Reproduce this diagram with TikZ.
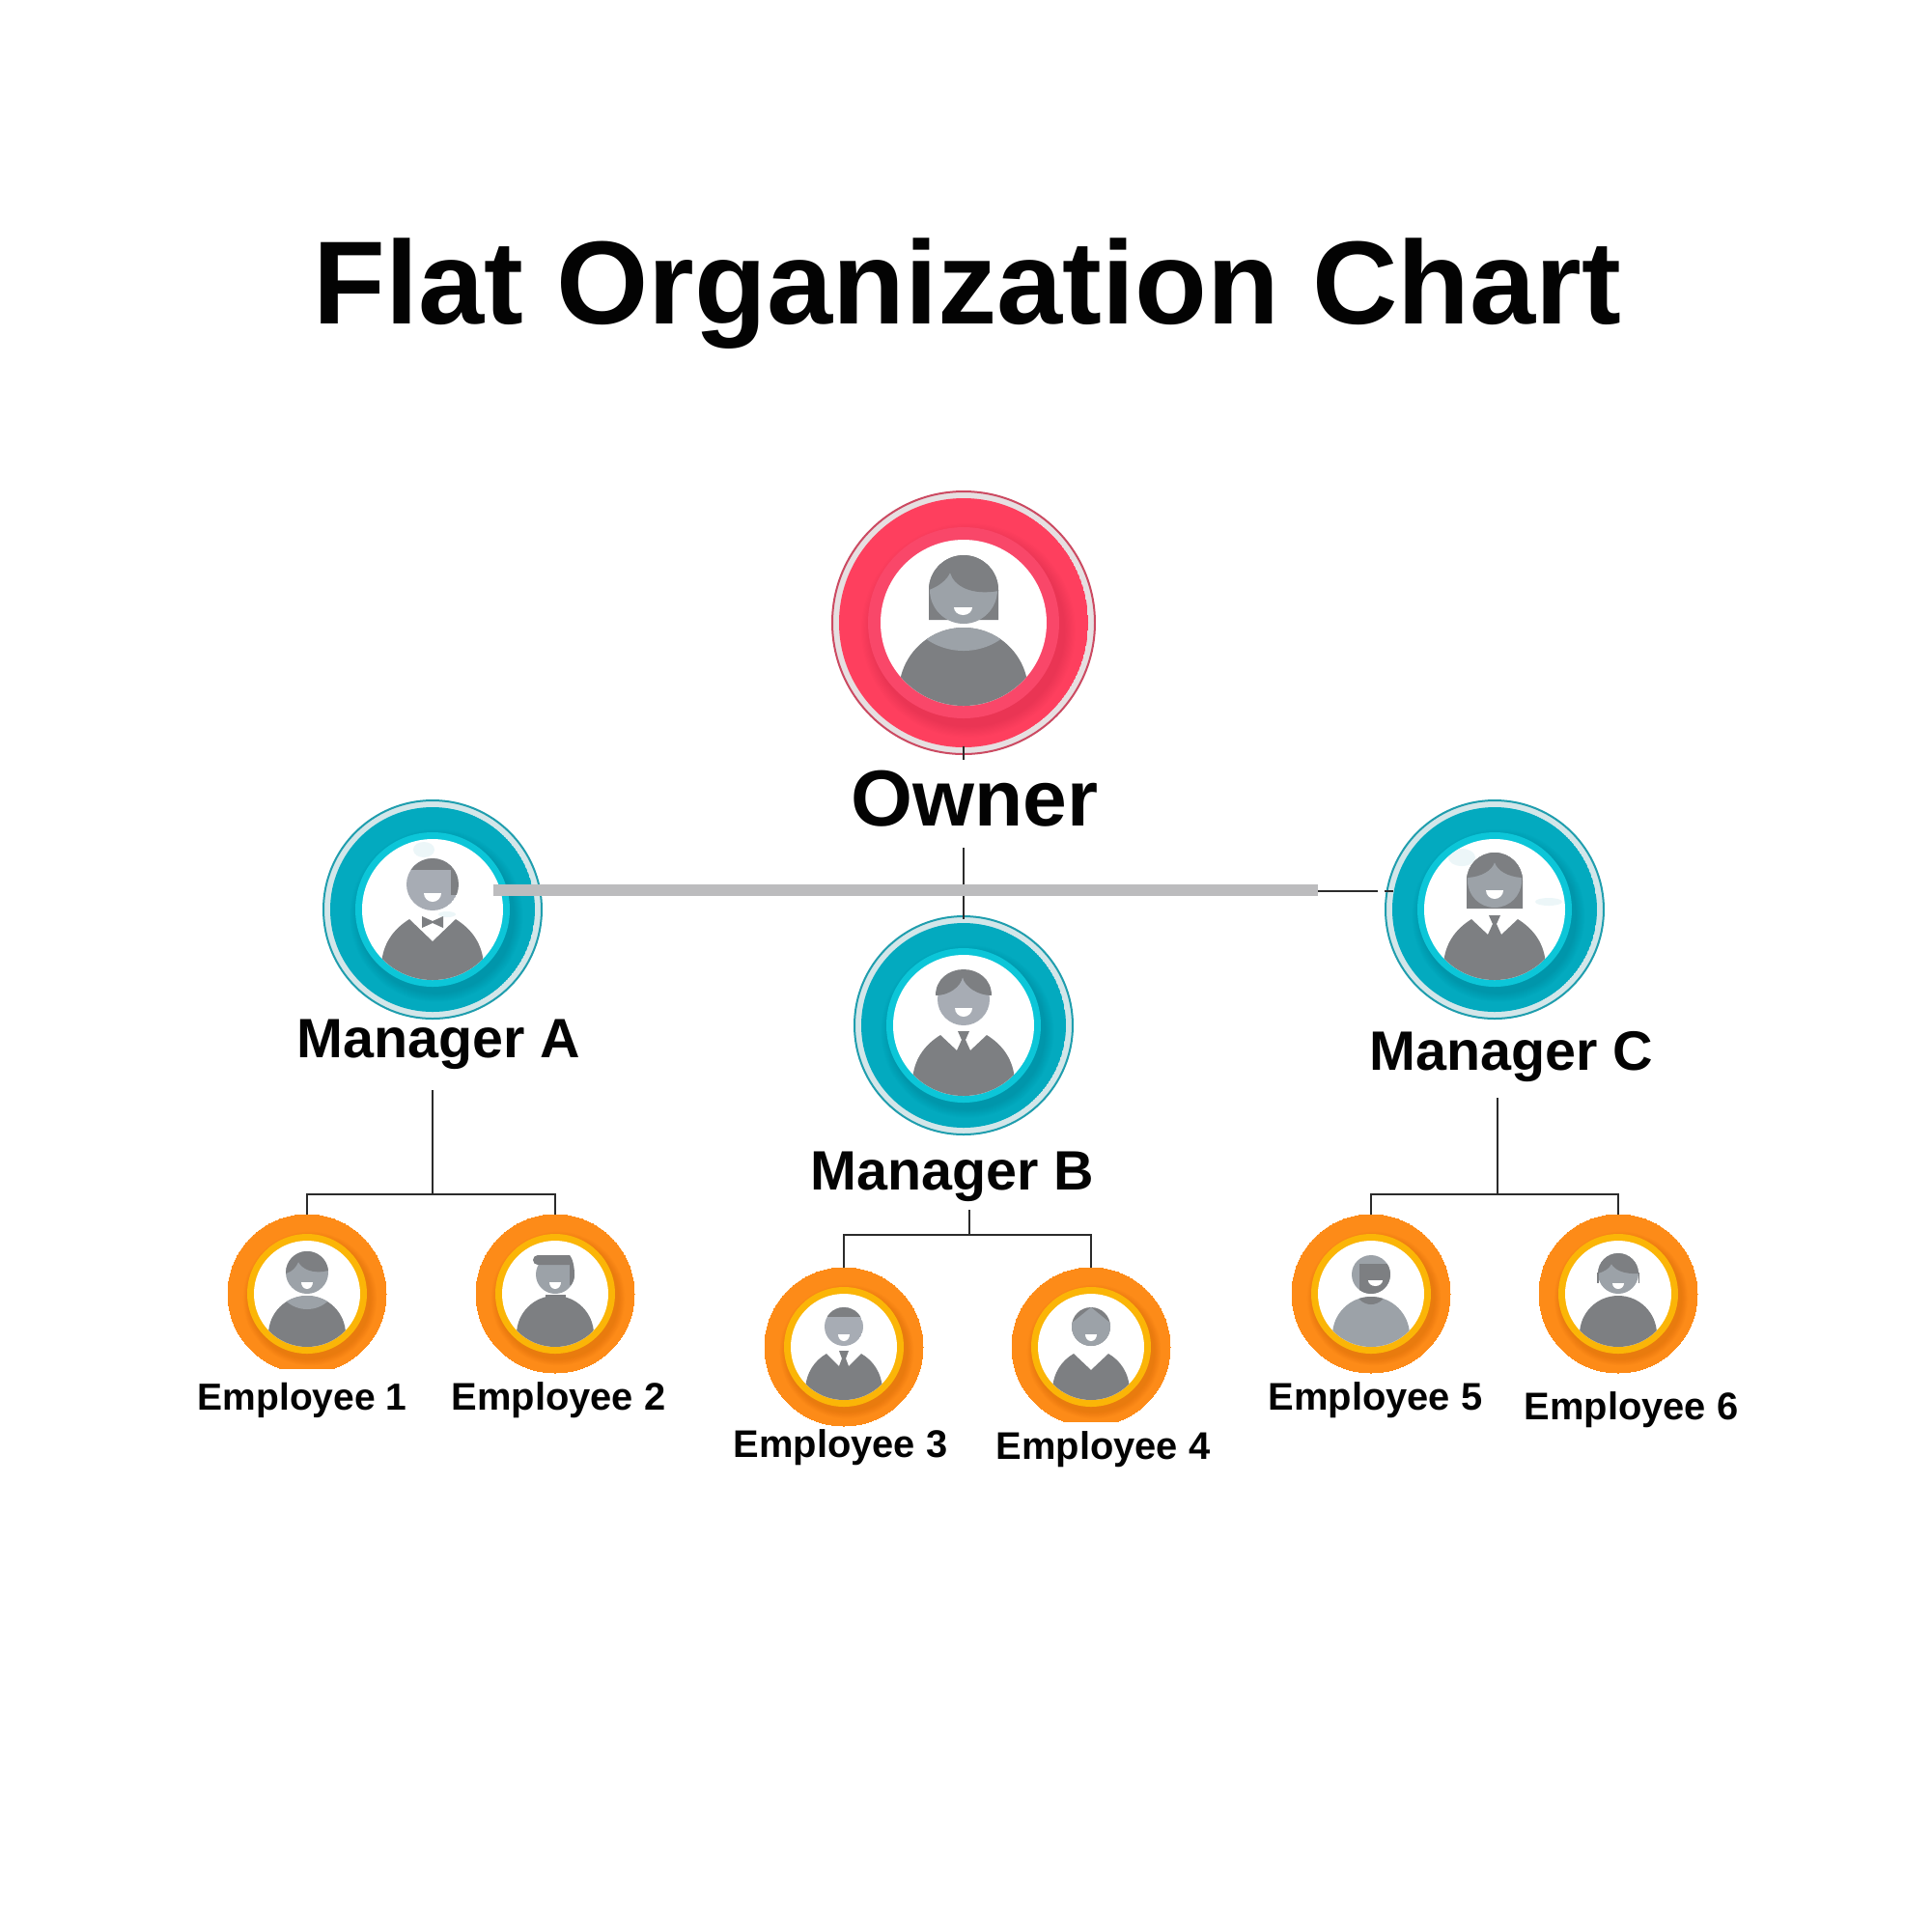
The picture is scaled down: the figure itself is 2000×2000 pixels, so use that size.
\documentclass[tikz,border=0pt]{standalone}
\usepackage{fontspec}
\setmainfont{Liberation Sans}
\definecolor{ownEdge}{HTML}{CC4A62}\definecolor{ownPale}{HTML}{E6DFE1}\definecolor{ownDisk}{HTML}{FE3F5E}\definecolor{ownRing}{HTML}{F94769}
\definecolor{mgrEdge}{HTML}{1F9EAE}\definecolor{mgrPale}{HTML}{D3E6E9}\definecolor{mgrDisk}{HTML}{03AABF}\definecolor{mgrRing}{HTML}{0CC6D8}
\definecolor{empDisk}{HTML}{FD8B18}\definecolor{empRing}{HTML}{FBB507}
\definecolor{gDark}{HTML}{7D7F82}\definecolor{gLight}{HTML}{9CA2A8}\definecolor{gFace}{HTML}{A7ACB4}
\definecolor{barGray}{HTML}{BCBCBE}\definecolor{connDark}{HTML}{2B2B2B}\definecolor{inkBlack}{HTML}{030303}
\definecolor{glint}{HTML}{DDF0F3}
\newcommand\tierOwner{\def\rO{136}\def\rD{129}\def\rR{99}\def\rW{86}\def\lw{0.2mm}\colorlet{cEdge}{ownEdge}\colorlet{cPale}{ownPale}\colorlet{cDisk}{ownDisk}\colorlet{cRing}{ownRing}}
\newcommand\tierMgr{\def\rO{113}\def\rD{106}\def\rR{80}\def\rW{73}\def\lw{0.2mm}\colorlet{cEdge}{mgrEdge}\colorlet{cPale}{mgrPale}\colorlet{cDisk}{mgrDisk}\colorlet{cRing}{mgrRing}}
\newcommand\tierEmp{\def\rO{82}\def\rD{82}\def\rR{62}\def\rW{55}\def\lw{0mm}\colorlet{cEdge}{empDisk}\colorlet{cPale}{empDisk}\colorlet{cDisk}{empDisk}\colorlet{cRing}{empRing}}
\newcommand\badge[4]{%
  \node[circle,draw=cEdge,fill=cPale,line width=\lw,inner sep=0pt,minimum size={2*\rO*0.1mm}] (#1) at (#2,#3) {};
  \begin{scope}
    \clip (#2,#3) circle[radius=\rD];
    \fill[cDisk] (#2,#3) circle[radius=\rD];
    \foreach \i in {1,...,10}{\fill[black,opacity=.008] (#2+0.05*\rR,#3+0.08*\rR) circle[radius=\rR+\i*0.012*\rR];}
  \end{scope}
  \fill[cRing] (#2,#3) circle[radius=\rR];
  \fill[white] (#2,#3) circle[radius=\rW];
  \begin{scope}[shift={(#2,#3)}]
    \clip (0,0) circle[radius=\rW];
    #4
  \end{scope}}
\newcommand\grin[4]{\fill[white] (#1,#3) -- (#2,#3) arc[start angle=0,end angle=180,x radius={(#2-(#1))/2},y radius=#4] -- cycle;}
\newcommand\mgrSuit{\fill[gDark] (-24,10)--(-7,26)--(-2,15)--(2,15)--(7,26)--(24,10) .. controls (40,20) and (52,35) .. (53,58) -- (53,80) -- (-53,80) -- (-53,58) .. controls (-52,35) and (-40,20) .. (-24,10) -- cycle;
  \fill[gDark] (-6,6)--(6,6)--(2,15)--(-2,15)--cycle;}
\newcommand\empBody{(18,7) .. controls (30,14) and (39,26) .. (40,44) -- (40,60) -- (-40,60) -- (-40,44) .. controls (-39,26) and (-30,14) .. (-18,7)}
\tikzset{
  conn/.style={draw=connDark,line width=0.23mm},
  graybar/.style={draw=barGray,line width=1.2mm},
  titletext/.style={inner sep=0pt,anchor=base west,text=inkBlack,font=\bfseries\fontsize{34.85}{40}\selectfont},
  ownertext/.style={inner sep=0pt,anchor=base west,text=inkBlack,font=\bfseries\fontsize{23.4}{27}\selectfont},
  mgrtext/.style={inner sep=0pt,anchor=base west,text=inkBlack,font=\bfseries\fontsize{16.35}{19}\selectfont},
  emptext/.style={inner sep=0pt,anchor=base west,text=inkBlack,font=\bfseries\fontsize{11.35}{13}\selectfont},
  smudge/.style={fill=glint,opacity=.55}
}
\begin{document}
\begin{tikzpicture}[x=0.1mm,y=-0.1mm]
\useasboundingbox (0,0) rectangle (2000,2000);
\fill[white] (0,0) rectangle (2000,2000);
\node[titletext] (title) at (324,335) {Flat Organization Chart};

% Owner
\tierOwner
\badge{owner}{998}{645}{
  \fill[gDark] (36,-3) -- (36,-34) arc[start angle=0,end angle=-180,radius=36] -- (-36,-3) -- cycle;
  \fill[gLight] (0,-34) circle[radius=35];
  \fill[gDark] (-36,-34) .. controls (-25,-38) and (-17,-45) .. (-14,-52) .. controls (-10,-38) and (8,-28) .. (36,-33) -- (36,-34) arc[start angle=0,end angle=-180,radius=36] -- cycle;
  \grin{-10}{9}{-16}{8}
  \fill[gDark] (0,72) circle[radius=67];
  \begin{scope}\clip (0,72) circle[radius=67]; \fill[gLight] (0,-39) circle[radius=68];\end{scope}
}
\node[ownertext] (ownerlabel) at (881,855) {Owner};

% Managers
\tierMgr
\badge{mgrA}{448}{942}{
  \fill[smudge] (-9,-62) ellipse[x radius=11,y radius=8];
  \fill[smudge] (15,5) ellipse[x radius=9,y radius=3];
  \begin{scope}\clip (0,-26) circle[radius=27];
    \fill[gFace] (0,-26) circle[radius=27];
    \fill[gDark] (-30,-60) rectangle (30,-41);
    \fill[gDark] (19,-41) rectangle (30,-15);
  \end{scope}
  \grin{-9}{9}{-17}{9}
  \fill[gDark] (-24,10)--(0,33)--(24,10) .. controls (40,20) and (52,35) .. (53,58) -- (53,80) -- (-53,80) -- (-53,58) .. controls (-52,35) and (-40,20) .. (-24,10) -- cycle;
  \fill[gDark] (-11,7)--(0,12)--(11,7)--(11,19)--(0,14)--(-11,19)--cycle;
}
\badge{mgrB}{998}{1062}{
  \fill[gFace] (0,-27) circle[radius=27];
  \fill[gDark] (-29,-31) .. controls (-15,-31) and (-3,-40) .. (-1,-50) .. controls (1,-40) and (15,-31) .. (29,-31) .. controls (29,-48) and (15,-58) .. (0,-58) .. controls (-15,-58) and (-29,-48) .. (-29,-31) -- cycle;
  \grin{-9}{9}{-18}{9}
  \mgrSuit
}
\badge{mgrC}{1548}{942}{
  \fill[smudge] (-34,-54) ellipse[x radius=14,y radius=9];
  \fill[smudge] (56,-8) ellipse[x radius=14,y radius=4];
  \fill[gDark] (29,-1) -- (29,-30) arc[start angle=0,end angle=-180,radius=29] -- (-29,-1) -- cycle;
  \fill[gLight] (0,-30) circle[radius=28];
  \fill[gDark] (-28,-33) .. controls (-14,-34) and (-3,-40) .. (0,-49) .. controls (3,-40) and (14,-34) .. (28,-33) -- (29,-30) arc[start angle=0,end angle=-180,radius=29] -- cycle;
  \grin{-9}{9}{-20}{9}
  \mgrSuit
}
\node[mgrtext] (labelA) at (307,1095) {Manager A};
\node[mgrtext] (labelB) at (839,1232) {Manager B};
\node[mgrtext] (labelC) at (1418,1108) {Manager C};

% Employees
\tierEmp
\badge{emp1}{318}{1340}{
  \fill[gLight] (0,-22) circle[radius=22];
  \fill[gDark] (-22,-21) .. controls (-15,-23) and (-11,-28) .. (-9,-33) .. controls (-5,-26) and (5,-20) .. (22,-24) arc[start angle=-5,end angle=-180,radius=22] -- cycle;
  \grin{-6}{6}{-12}{7}
  \fill[gDark] (0,42) circle[radius=40];
  \begin{scope}\clip (0,42) circle[radius=40]; \fill[gLight] (0,-16) circle[radius=32];\end{scope}
}
\fill[white] (220,1418) rectangle (420,1426);
\badge{emp2}{575}{1340}{
  \fill[gLight] (0,-20) circle[radius=20];
  \fill[gDark] (-18,-40) -- (15,-40) -- (15,-30) -- (-18,-30) arc[start angle=90,end angle=270,radius=5] -- cycle;
  \fill[gDark] (15,-40) .. controls (18,-37) and (20,-28) .. (20,-20) .. controls (20,-15) and (18.5,-12) .. (16.7,-9) -- (15,-9) -- cycle;
  \grin{-6}{6}{-12}{7}
  \fill[gDark] (-10,1) rectangle (11,6);
  \fill[gDark] (0,42) circle[radius=40];
}
\badge{emp3}{874}{1395}{
  \begin{scope}\clip (0,-21) circle[radius=20];
    \fill[gFace] (0,-21) circle[radius=20];
    \fill[gDark] (-21,-42) rectangle (21,-31);
  \end{scope}
  \grin{-6}{6}{-13}{7}
  \fill[gDark] (-18,7)--(-5,20)--(-2,12)--(2,12)--(5,20)--\empBody -- cycle;
  \fill[gDark] (-5,4)--(5,4)--(2,12)--(-2,12)--cycle;
}
\badge{emp4}{1130}{1395}{
  \fill[gDark] (0,-21) circle[radius=20];
  \begin{scope}\clip (0,-21) circle[radius=20];
    \fill[gLight] (0,-41)--(-21,-24)--(-21,5)--(21,5)--(21,-24)--cycle;
  \end{scope}
  \grin{-6}{6}{-13}{7}
  \fill[gDark] (-18,7)--(0,24)--\empBody -- cycle;
}
\fill[white] (1030,1473) rectangle (1230,1480);
\badge{emp5}{1420}{1340}{
  \fill[gLight] (0,-20) circle[radius=20];
  \begin{scope}\clip (0,-20) circle[radius=20];
    \fill[gDark] (-12,-31) rectangle (21,0);
  \end{scope}
  \grin{-3}{12}{-14}{6}
  \fill[gLight] (0,43) circle[radius=40];
  \begin{scope}\clip (0,43) circle[radius=40]; \fill[gDark] (0,-5) circle[radius=16];\end{scope}
}
\badge{emp6}{1676}{1340}{
  \fill[gLight] (0,-21) circle[radius=21];
  \fill[gDark] (-21,-21) .. controls (-15,-23) and (-9,-26) .. (-7,-31) .. controls (-4,-25) and (6,-20) .. (21,-21) arc[start angle=0,end angle=-180,radius=21] -- cycle;
  \fill[gDark] (-22,-22) rectangle (-20.5,-11);
  \fill[gDark] (20.5,-22) rectangle (22,-11);
  \grin{-6}{6}{-11}{6}
  \fill[gDark] (0,42) circle[radius=40];
}
\node[emptext,font=\bfseries\fontsize{11.1}{13}\selectfont] (labelE1) at (204,1460) {Employee 1};
\node[emptext] (labelE2) at (467,1460) {Employee 2};
\node[emptext] (labelE3) at (759,1509) {Employee 3};
\node[emptext] (labelE4) at (1031,1511) {Employee 4};
\node[emptext] (labelE5) at (1313,1460) {Employee 5};
\node[emptext] (labelE6) at (1578,1470) {Employee 6};

% Connectors
\coordinate (ticktop) at (998,773);
\coordinate (tickend) at (998,787);
\coordinate (trunktop) at (998,878);
\coordinate (barL) at (511,922);
\coordinate (barR) at (1365,922);
\coordinate (gapL) at (1427,923);
\coordinate (gapR) at (1434,923);
\coordinate (gapE) at (1443,923);
\coordinate (barEnd) at (1365,923);
\draw[conn] (ticktop) -- (tickend);
\draw[conn] (trunktop) -- ([yshift=-0.4mm]mgrB.north);
\draw[graybar] (barL) -- (barR);
\draw[conn] (barEnd) -- (gapL);
\draw[conn] (gapR) -- (gapE);

\coordinate (forkA) at (448,1237);
\coordinate (topA) at (448,1129);
\draw[conn] (topA) -- (forkA);
\draw[conn] (emp1.north) -- (emp1.north |- forkA) -- (emp2.north |- forkA) -- (emp2.north);

\coordinate (topB) at (1004,1253);
\coordinate (forkB) at (1004,1279);
\draw[conn] (topB) -- (forkB);
\draw[conn] (emp3.north) -- (emp3.north |- forkB) -- (emp4.north |- forkB) -- (emp4.north);

\coordinate (topC) at (1551,1137);
\coordinate (forkC) at (1551,1237);
\draw[conn] (topC) -- (forkC);
\draw[conn] (emp5.north) -- (emp5.north |- forkC) -- (emp6.north |- forkC) -- (emp6.north);
\end{tikzpicture}
\end{document}
